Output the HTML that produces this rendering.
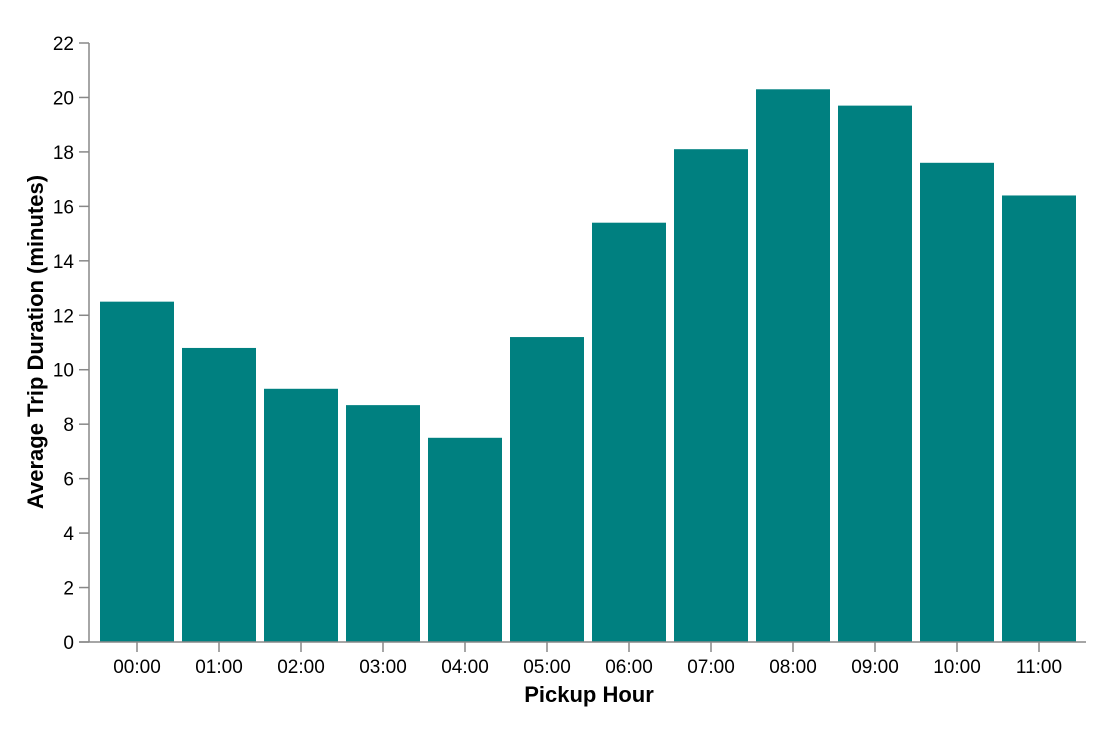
<!DOCTYPE html>
<html><head><meta charset="utf-8"><style>
body{margin:0;background:#fff;}
svg text{font-family:"Liberation Sans",Arial,sans-serif;fill:#000;}
</style></head><body>
<svg id="chart" width="1108" height="726"></svg>
<script>
const categories=["00:00","01:00","02:00","03:00","04:00","05:00","06:00","07:00","08:00","09:00","10:00","11:00"];
const values=[12.5,10.8,9.3,8.7,7.5,11.2,15.4,18.1,20.3,19.7,17.6,16.4];
const yTicks=[0,2,4,6,8,10,12,14,16,18,20,22];
const svg=document.getElementById('chart');
const NS="http://www.w3.org/2000/svg";
const y0=642,y1=43,yMax=22,axisX=89,xStart=100,step=82,bw=74;
const y=v=>y0-(v/yMax)*(y0-y1);
const x=i=>xStart+i*step;
function mk(t,a){const e=document.createElementNS(NS,t);for(const k in a)e.setAttribute(k,a[k]);svg.appendChild(e);return e;}
values.forEach((v,i)=>{
 const r=mk('rect',{x:x(i),y:y(v),width:bw,height:y0-y(v),fill:'#008080'});
 
 
});
const ya=mk('line',{x1:axisX,x2:axisX,y1:y1,y2:y0,stroke:'#888','stroke-width':1.5});


yTicks.forEach(t=>{
 mk('line',{x1:axisX-10,x2:axisX,y1:y(t),y2:y(t),stroke:'#888','stroke-width':1.5});
 const tx=mk('text',{x:axisX-15,y:y(t)+7,'text-anchor':'end','font-size':19});
 tx.textContent=t;
 
 
});
const xa=mk('line',{x1:axisX-10,x2:1086,y1:y0,y2:y0,stroke:'#888','stroke-width':1.5});


categories.forEach((c,i)=>{
 const cx=x(i)+bw/2;
 mk('line',{x1:cx,x2:cx,y1:y0,y2:y0+10,stroke:'#888','stroke-width':1.5});
 const tx=mk('text',{x:cx,y:y0+31,'text-anchor':'middle','font-size':19});
 tx.textContent=c;
 
 
});
const xt=mk('text',{x:589,y:702,'text-anchor':'middle','font-size':22,'font-weight':'bold'});
xt.textContent='Pickup Hour';


const yt=mk('text',{x:0,y:0,'text-anchor':'middle','font-size':22,'font-weight':'bold',transform:'translate(43,342) rotate(-90)'});
yt.textContent='Average Trip Duration (minutes)';


</script>
</body></html>
